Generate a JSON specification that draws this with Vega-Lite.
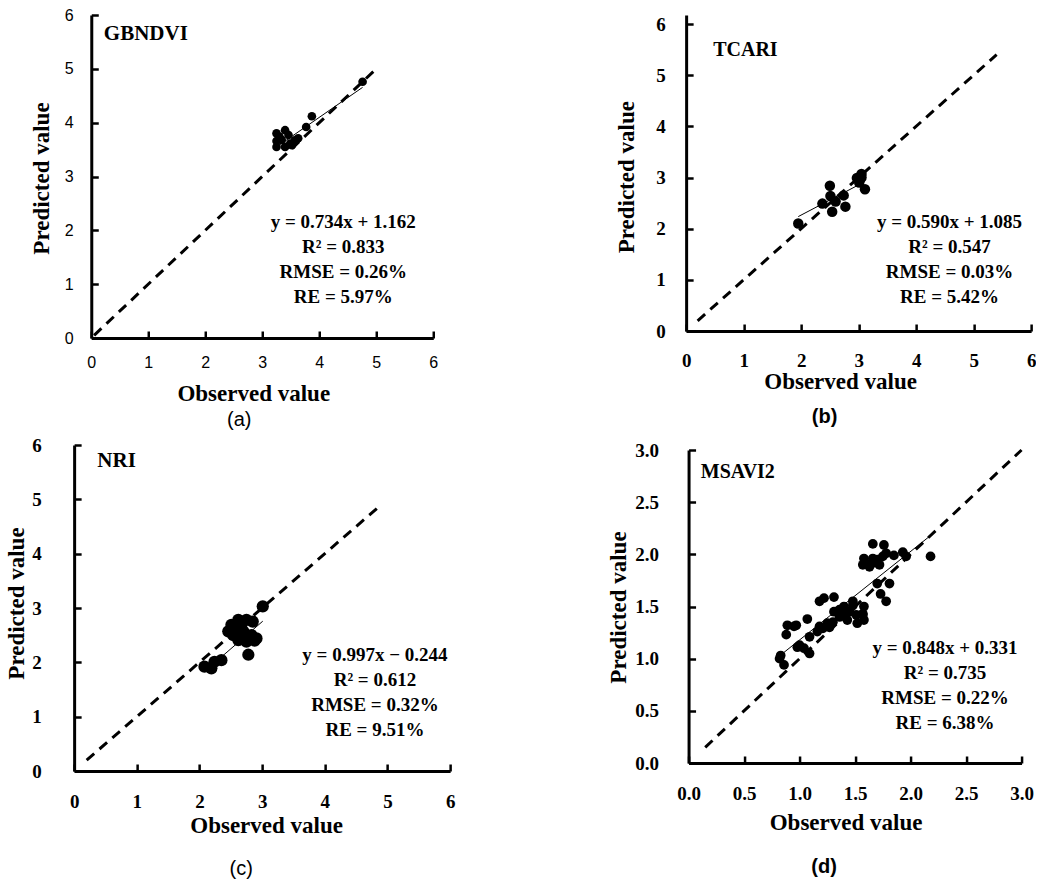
{
  "$schema": "https://vega.github.io/schema/vega-lite/v6.json",
  "padding": {"left": 5, "top": 7, "right": 0, "bottom": 0},
  "background": "white",
  "datasets": {
    "points": [
      {"panel": "a", "observed": 4.76, "predicted": 4.76},
      {"panel": "a", "observed": 3.87, "predicted": 4.12},
      {"panel": "a", "observed": 3.77, "predicted": 3.92},
      {"panel": "a", "observed": 3.25, "predicted": 3.80},
      {"panel": "a", "observed": 3.40, "predicted": 3.86},
      {"panel": "a", "observed": 3.46, "predicted": 3.77},
      {"panel": "a", "observed": 3.25, "predicted": 3.66},
      {"panel": "a", "observed": 3.25, "predicted": 3.55},
      {"panel": "a", "observed": 3.40, "predicted": 3.55},
      {"panel": "a", "observed": 3.49, "predicted": 3.61},
      {"panel": "a", "observed": 3.57, "predicted": 3.67},
      {"panel": "a", "observed": 3.63, "predicted": 3.71},
      {"panel": "a", "observed": 3.34, "predicted": 3.68},
      {"panel": "a", "observed": 3.52, "predicted": 3.58},
      {"panel": "a", "observed": 3.30, "predicted": 3.74},
      {"panel": "b", "observed": 1.95, "predicted": 2.10},
      {"panel": "b", "observed": 2.37, "predicted": 2.49},
      {"panel": "b", "observed": 2.50, "predicted": 2.84},
      {"panel": "b", "observed": 2.51, "predicted": 2.64},
      {"panel": "b", "observed": 2.60, "predicted": 2.53},
      {"panel": "b", "observed": 2.74, "predicted": 2.65},
      {"panel": "b", "observed": 2.77, "predicted": 2.43},
      {"panel": "b", "observed": 2.54, "predicted": 2.33},
      {"panel": "b", "observed": 2.97, "predicted": 2.99},
      {"panel": "b", "observed": 3.05, "predicted": 3.07},
      {"panel": "b", "observed": 3.01, "predicted": 2.90},
      {"panel": "b", "observed": 3.11, "predicted": 2.77},
      {"panel": "b", "observed": 3.05, "predicted": 3.00},
      {"panel": "c", "observed": 3.01, "predicted": 3.03},
      {"panel": "c", "observed": 2.62, "predicted": 2.78},
      {"panel": "c", "observed": 2.75, "predicted": 2.78},
      {"panel": "c", "observed": 2.85, "predicted": 2.75},
      {"panel": "c", "observed": 2.51, "predicted": 2.69},
      {"panel": "c", "observed": 2.46, "predicted": 2.57},
      {"panel": "c", "observed": 2.59, "predicted": 2.60},
      {"panel": "c", "observed": 2.70, "predicted": 2.57},
      {"panel": "c", "observed": 2.83, "predicted": 2.50},
      {"panel": "c", "observed": 2.91, "predicted": 2.44},
      {"panel": "c", "observed": 2.62, "predicted": 2.41},
      {"panel": "c", "observed": 2.75, "predicted": 2.38},
      {"panel": "c", "observed": 2.78, "predicted": 2.14},
      {"panel": "c", "observed": 2.35, "predicted": 2.04},
      {"panel": "c", "observed": 2.24, "predicted": 2.01},
      {"panel": "c", "observed": 2.08, "predicted": 1.92},
      {"panel": "c", "observed": 2.19, "predicted": 1.89},
      {"panel": "c", "observed": 2.54, "predicted": 2.50},
      {"panel": "c", "observed": 2.67, "predicted": 2.70},
      {"panel": "c", "observed": 2.88, "predicted": 2.40},
      {"panel": "d", "observed": 1.66, "predicted": 2.10},
      {"panel": "d", "observed": 1.76, "predicted": 2.09},
      {"panel": "d", "observed": 1.58, "predicted": 1.96},
      {"panel": "d", "observed": 1.60, "predicted": 1.91},
      {"panel": "d", "observed": 1.66, "predicted": 1.96},
      {"panel": "d", "observed": 1.70, "predicted": 1.95},
      {"panel": "d", "observed": 1.75, "predicted": 1.98},
      {"panel": "d", "observed": 1.78, "predicted": 2.01},
      {"panel": "d", "observed": 1.72, "predicted": 1.90},
      {"panel": "d", "observed": 1.63, "predicted": 1.88},
      {"panel": "d", "observed": 1.57, "predicted": 1.90},
      {"panel": "d", "observed": 1.93, "predicted": 2.02},
      {"panel": "d", "observed": 1.85, "predicted": 1.99},
      {"panel": "d", "observed": 1.96, "predicted": 1.98},
      {"panel": "d", "observed": 2.18, "predicted": 1.98},
      {"panel": "d", "observed": 1.81, "predicted": 1.72},
      {"panel": "d", "observed": 1.70, "predicted": 1.72},
      {"panel": "d", "observed": 1.73, "predicted": 1.62},
      {"panel": "d", "observed": 1.78, "predicted": 1.55},
      {"panel": "d", "observed": 1.22, "predicted": 1.58},
      {"panel": "d", "observed": 1.31, "predicted": 1.59},
      {"panel": "d", "observed": 1.18, "predicted": 1.55},
      {"panel": "d", "observed": 1.40, "predicted": 1.50},
      {"panel": "d", "observed": 1.48, "predicted": 1.51},
      {"panel": "d", "observed": 1.39, "predicted": 1.43},
      {"panel": "d", "observed": 1.45, "predicted": 1.45},
      {"panel": "d", "observed": 1.51, "predicted": 1.42},
      {"panel": "d", "observed": 1.57, "predicted": 1.43},
      {"panel": "d", "observed": 1.58, "predicted": 1.37},
      {"panel": "d", "observed": 1.52, "predicted": 1.34},
      {"panel": "d", "observed": 1.43, "predicted": 1.37},
      {"panel": "d", "observed": 1.36, "predicted": 1.40},
      {"panel": "d", "observed": 1.31, "predicted": 1.45},
      {"panel": "d", "observed": 1.30, "predicted": 1.35},
      {"panel": "d", "observed": 1.25, "predicted": 1.34},
      {"panel": "d", "observed": 1.21, "predicted": 1.29},
      {"panel": "d", "observed": 1.16, "predicted": 1.26},
      {"panel": "d", "observed": 1.18, "predicted": 1.31},
      {"panel": "d", "observed": 1.07, "predicted": 1.38},
      {"panel": "d", "observed": 0.97, "predicted": 1.32},
      {"panel": "d", "observed": 0.89, "predicted": 1.32},
      {"panel": "d", "observed": 0.88, "predicted": 1.23},
      {"panel": "d", "observed": 1.09, "predicted": 1.21},
      {"panel": "d", "observed": 1.00, "predicted": 1.13},
      {"panel": "d", "observed": 1.04, "predicted": 1.10},
      {"panel": "d", "observed": 1.09, "predicted": 1.05},
      {"panel": "d", "observed": 0.83, "predicted": 1.03},
      {"panel": "d", "observed": 0.82, "predicted": 1.00},
      {"panel": "d", "observed": 0.86, "predicted": 0.94},
      {"panel": "d", "observed": 1.58, "predicted": 1.50},
      {"panel": "d", "observed": 1.48, "predicted": 1.55},
      {"panel": "d", "observed": 1.57, "predicted": 1.42},
      {"panel": "d", "observed": 0.98, "predicted": 1.11},
      {"panel": "d", "observed": 0.95, "predicted": 1.31},
      {"panel": "d", "observed": 1.68, "predicted": 1.92},
      {"panel": "d", "observed": 1.36, "predicted": 1.47},
      {"panel": "d", "observed": 1.27, "predicted": 1.30}
    ],
    "lines": [
      {"panel": "a", "kind": "identity", "observed": 0.05, "predicted": 0.05},
      {"panel": "a", "kind": "identity", "observed": 5.0, "predicted": 5.0},
      {"panel": "a", "kind": "fit", "observed": 3.25, "predicted": 3.548},
      {"panel": "a", "kind": "fit", "observed": 4.76, "predicted": 4.656},
      {"panel": "b", "kind": "identity", "observed": 0.2, "predicted": 0.2},
      {"panel": "b", "kind": "identity", "observed": 5.4, "predicted": 5.4},
      {"panel": "b", "kind": "fit", "observed": 1.95, "predicted": 2.236},
      {"panel": "b", "kind": "fit", "observed": 3.11, "predicted": 2.92},
      {"panel": "c", "kind": "identity", "observed": 0.2, "predicted": 0.2},
      {"panel": "c", "kind": "identity", "observed": 4.9, "predicted": 4.9},
      {"panel": "c", "kind": "fit", "observed": 2.08, "predicted": 1.83},
      {"panel": "c", "kind": "fit", "observed": 3.01, "predicted": 2.757},
      {"panel": "d", "kind": "identity", "observed": 0.15, "predicted": 0.15},
      {"panel": "d", "kind": "identity", "observed": 3.0, "predicted": 3.0},
      {"panel": "d", "kind": "fit", "observed": 0.83, "predicted": 1.035},
      {"panel": "d", "kind": "fit", "observed": 2.18, "predicted": 2.18}
    ],
    "stats": [
      {"panel": "a", "index": "GBNDVI", "stats": ["y = 0.734x + 1.162", "R² = 0.833", "RMSE = 0.26%", "RE = 5.97%"]},
      {"panel": "b", "index": "TCARI", "stats": ["y = 0.590x + 1.085", "R² = 0.547", "RMSE = 0.03%", "RE = 5.42%"]},
      {"panel": "c", "index": "NRI", "stats": ["y = 0.997x − 0.244", "R² = 0.612", "RMSE = 0.32%", "RE = 9.51%"]},
      {"panel": "d", "index": "MSAVI2", "stats": ["y = 0.848x + 0.331", "R² = 0.735", "RMSE = 0.22%", "RE = 6.38%"]}
    ]
  },
  "hconcat": [
    {
      "vconcat": [
        {
          "width": 342, "height": 323,
          "title": {"text": "(a)", "orient": "bottom", "anchor": "middle", "frame": "group", "offset": 5, "dx": -23, "font": "Liberation Sans", "fontSize": 20, "fontWeight": "normal", "color": "black", "baseline": "top"},
          "layer": [
            {
              "data": {"name": "lines"},
              "transform": [{"filter": "datum.panel === 'a' && datum.kind === 'identity'"}],
              "mark": {"type": "line", "color": "black", "strokeWidth": 3, "strokeDash": [10, 7]},
              "encoding": {
                "x": {"field": "observed", "type": "quantitative", "scale": {"domain": [0, 6], "nice": false, "zero": false},
                  "axis": {"values": [0, 1, 2, 3, 4, 5, 6], "format": "d", "title": "Observed value", "titleX": 162, "titleY": 55, "titleBaseline": "middle", "titleAlign": "center", "labelFont": "Liberation Sans", "labelFontSize": 16, "labelFontWeight": "normal", "labelPadding": 23}},
                "y": {"field": "predicted", "type": "quantitative", "scale": {"domain": [0, 6], "nice": false, "zero": false},
                  "axis": {"values": [0, 1, 2, 3, 4, 5, 6], "format": "d", "title": "Predicted value", "titleX": -50, "titleY": 163, "titleBaseline": "middle", "titleAlign": "center", "titleAngle": -90, "labelFont": "Liberation Sans", "labelFontSize": 16, "labelFontWeight": "normal", "labelPadding": 25}}
              }
            },
            {
              "data": {"name": "lines"},
              "transform": [{"filter": "datum.panel === 'a' && datum.kind === 'fit'"}],
              "mark": {"type": "line", "color": "black", "strokeWidth": 1},
              "encoding": {"x": {"field": "observed", "type": "quantitative"}, "y": {"field": "predicted", "type": "quantitative"}}
            },
            {
              "data": {"name": "points"},
              "transform": [{"filter": "datum.panel === 'a'"}],
              "mark": {"type": "circle", "color": "black", "opacity": 1, "size": 75},
              "encoding": {"x": {"field": "observed", "type": "quantitative"}, "y": {"field": "predicted", "type": "quantitative"}}
            },
            {
              "data": {"name": "stats"},
              "transform": [{"filter": "datum.panel === 'a'"}],
              "mark": {"type": "text", "align": "left", "baseline": "middle", "font": "Liberation Serif", "fontSize": 21, "fontWeight": "bold", "color": "black"},
              "encoding": {"x": {"datum": 0.22}, "y": {"datum": 5.64}, "text": {"field": "index", "type": "nominal"}}
            },
            {
              "data": {"name": "stats"},
              "transform": [{"filter": "datum.panel === 'a'"}],
              "mark": {"type": "text", "align": "center", "baseline": "middle", "lineHeight": 25, "font": "Liberation Serif", "fontSize": 19, "fontWeight": "bold", "color": "black"},
              "encoding": {"x": {"datum": 4.42}, "y": {"datum": 2.16}, "text": {"field": "stats", "type": "nominal"}}
            }
          ]
        },
        {
          "width": 376, "height": 326,
          "title": {"text": "(c)", "orient": "bottom", "anchor": "middle", "frame": "group", "offset": 22, "dx": -21, "font": "Liberation Sans", "fontSize": 20, "fontWeight": "normal", "color": "black", "baseline": "top"},
          "layer": [
            {
              "data": {"name": "lines"},
              "transform": [{"filter": "datum.panel === 'c' && datum.kind === 'identity'"}],
              "mark": {"type": "line", "color": "black", "strokeWidth": 3, "strokeDash": [10, 7]},
              "encoding": {
                "x": {"field": "observed", "type": "quantitative", "scale": {"domain": [0, 6], "nice": false, "zero": false},
                  "axis": {"values": [0, 1, 2, 3, 4, 5, 6], "format": "d", "title": "Observed value", "titleX": 192, "titleY": 54, "titleBaseline": "middle", "titleAlign": "center", "labelPadding": 28}},
                "y": {"field": "predicted", "type": "quantitative", "scale": {"domain": [0, 6], "nice": false, "zero": false},
                  "axis": {"values": [0, 1, 2, 3, 4, 5, 6], "format": "d", "title": "Predicted value", "titleX": -57.7, "titleY": 158, "titleBaseline": "middle", "titleAlign": "center", "titleAngle": -90, "labelPadding": 40}}
              }
            },
            {
              "data": {"name": "lines"},
              "transform": [{"filter": "datum.panel === 'c' && datum.kind === 'fit'"}],
              "mark": {"type": "line", "color": "black", "strokeWidth": 1},
              "encoding": {"x": {"field": "observed", "type": "quantitative"}, "y": {"field": "predicted", "type": "quantitative"}}
            },
            {
              "data": {"name": "points"},
              "transform": [{"filter": "datum.panel === 'c'"}],
              "mark": {"type": "circle", "color": "black", "opacity": 1, "size": 150},
              "encoding": {"x": {"field": "observed", "type": "quantitative"}, "y": {"field": "predicted", "type": "quantitative"}}
            },
            {
              "data": {"name": "stats"},
              "transform": [{"filter": "datum.panel === 'c'"}],
              "mark": {"type": "text", "align": "left", "baseline": "middle", "font": "Liberation Serif", "fontSize": 21, "fontWeight": "bold", "color": "black"},
              "encoding": {"x": {"datum": 0.37}, "y": {"datum": 5.70}, "text": {"field": "index", "type": "nominal"}}
            },
            {
              "data": {"name": "stats"},
              "transform": [{"filter": "datum.panel === 'c'"}],
              "mark": {"type": "text", "align": "center", "baseline": "middle", "lineHeight": 25, "font": "Liberation Serif", "fontSize": 19, "fontWeight": "bold", "color": "black"},
              "encoding": {"x": {"datum": 4.80}, "y": {"datum": 2.14}, "text": {"field": "stats", "type": "nominal"}}
            }
          ]
        }
      ],
      "spacing": 6,
      "center": true
    },
    {
      "vconcat": [
        {
          "width": 345, "height": 316,
          "title": {"text": "(b)", "orient": "bottom", "anchor": "middle", "frame": "group", "offset": 14, "dx": -34, "font": "Liberation Sans", "fontSize": 20, "fontWeight": "bold", "color": "black", "baseline": "top"},
          "layer": [
            {
              "data": {"name": "lines"},
              "transform": [{"filter": "datum.panel === 'b' && datum.kind === 'identity'"}],
              "mark": {"type": "line", "color": "black", "strokeWidth": 3, "strokeDash": [10, 7]},
              "encoding": {
                "x": {"field": "observed", "type": "quantitative", "scale": {"domain": [0, 6], "nice": false, "zero": false},
                  "axis": {"values": [0, 1, 2, 3, 4, 5, 6], "format": "d", "title": "Observed value", "titleX": 154, "titleY": 50, "titleBaseline": "middle", "titleAlign": "center", "labelPadding": 27}},
                "y": {"field": "predicted", "type": "quantitative", "scale": {"domain": [0, 6.1759], "nice": false, "zero": false},
                  "axis": {"values": [0, 1, 2, 3, 4, 5, 6], "format": "d", "title": "Predicted value", "titleX": -60, "titleY": 161.7, "titleBaseline": "middle", "titleAlign": "center", "titleAngle": -90, "labelPadding": 28}}
              }
            },
            {
              "data": {"name": "lines"},
              "transform": [{"filter": "datum.panel === 'b' && datum.kind === 'fit'"}],
              "mark": {"type": "line", "color": "black", "strokeWidth": 1},
              "encoding": {"x": {"field": "observed", "type": "quantitative"}, "y": {"field": "predicted", "type": "quantitative"}}
            },
            {
              "data": {"name": "points"},
              "transform": [{"filter": "datum.panel === 'b'"}],
              "mark": {"type": "circle", "color": "black", "opacity": 1, "size": 110},
              "encoding": {"x": {"field": "observed", "type": "quantitative"}, "y": {"field": "predicted", "type": "quantitative"}}
            },
            {
              "data": {"name": "stats"},
              "transform": [{"filter": "datum.panel === 'b'"}],
              "mark": {"type": "text", "align": "left", "baseline": "middle", "font": "Liberation Serif", "fontSize": 20, "fontWeight": "bold", "color": "black"},
              "encoding": {"x": {"datum": 0.47}, "y": {"datum": 5.49}, "text": {"field": "index", "type": "nominal"}}
            },
            {
              "data": {"name": "stats"},
              "transform": [{"filter": "datum.panel === 'b'"}],
              "mark": {"type": "text", "align": "center", "baseline": "middle", "lineHeight": 25, "font": "Liberation Serif", "fontSize": 19, "fontWeight": "bold", "color": "black"},
              "encoding": {"x": {"datum": 4.58}, "y": {"datum": 2.14}, "text": {"field": "stats", "type": "nominal"}}
            }
          ]
        },
        {
          "width": 333, "height": 313,
          "title": {"text": "(d)", "orient": "bottom", "anchor": "middle", "frame": "group", "offset": 23, "dx": -31, "font": "Liberation Sans", "fontSize": 20, "fontWeight": "bold", "color": "black", "baseline": "top"},
          "layer": [
            {
              "data": {"name": "lines"},
              "transform": [{"filter": "datum.panel === 'd' && datum.kind === 'identity'"}],
              "mark": {"type": "line", "color": "black", "strokeWidth": 3, "strokeDash": [10, 7]},
              "encoding": {
                "x": {"field": "observed", "type": "quantitative", "scale": {"domain": [0, 3], "nice": false, "zero": false},
                  "axis": {"values": [0, 0.5, 1, 1.5, 2, 2.5, 3], "format": ".1f", "title": "Observed value", "titleX": 157, "titleY": 59, "titleBaseline": "middle", "titleAlign": "center", "labelPadding": 28}},
                "y": {"field": "predicted", "type": "quantitative", "scale": {"domain": [0, 3], "nice": false, "zero": false},
                  "axis": {"values": [0, 0.5, 1, 1.5, 2, 2.5, 3], "format": ".1f", "title": "Predicted value", "titleX": -70, "titleY": 157, "titleBaseline": "middle", "titleAlign": "center", "titleAngle": -90, "labelPadding": 37}}
              }
            },
            {
              "data": {"name": "lines"},
              "transform": [{"filter": "datum.panel === 'd' && datum.kind === 'fit'"}],
              "mark": {"type": "line", "color": "black", "strokeWidth": 1},
              "encoding": {"x": {"field": "observed", "type": "quantitative"}, "y": {"field": "predicted", "type": "quantitative"}}
            },
            {
              "data": {"name": "points"},
              "transform": [{"filter": "datum.panel === 'd'"}],
              "mark": {"type": "circle", "color": "black", "opacity": 1, "size": 95},
              "encoding": {"x": {"field": "observed", "type": "quantitative"}, "y": {"field": "predicted", "type": "quantitative"}}
            },
            {
              "data": {"name": "stats"},
              "transform": [{"filter": "datum.panel === 'd'"}],
              "mark": {"type": "text", "align": "left", "baseline": "middle", "font": "Liberation Serif", "fontSize": 20, "fontWeight": "bold", "color": "black"},
              "encoding": {"x": {"datum": 0.11}, "y": {"datum": 2.79}, "text": {"field": "index", "type": "nominal"}}
            },
            {
              "data": {"name": "stats"},
              "transform": [{"filter": "datum.panel === 'd'"}],
              "mark": {"type": "text", "align": "center", "baseline": "middle", "lineHeight": 25, "font": "Liberation Serif", "fontSize": 19, "fontWeight": "bold", "color": "black"},
              "encoding": {"x": {"datum": 2.31}, "y": {"datum": 1.10}, "text": {"field": "stats", "type": "nominal"}}
            }
          ]
        }
      ],
      "spacing": 14,
      "center": true
    }
  ],
  "spacing": 152,
  "config": {
    "view": {"stroke": null},
    "axis": {
      "grid": false,
      "domainColor": "black",
      "domainWidth": 3,
      "tickColor": "black",
      "tickWidth": 2.5,
      "tickSize": -7,
      "labelColor": "black",
      "labelFont": "Liberation Serif",
      "labelFontSize": 19,
      "labelFontWeight": "bold",
      "labelFlush": false,
      "labelOverlap": false,
      "titleColor": "black",
      "titleFont": "Liberation Serif",
      "titleFontSize": 23,
      "titleFontWeight": "bold"
    }
  }
}
